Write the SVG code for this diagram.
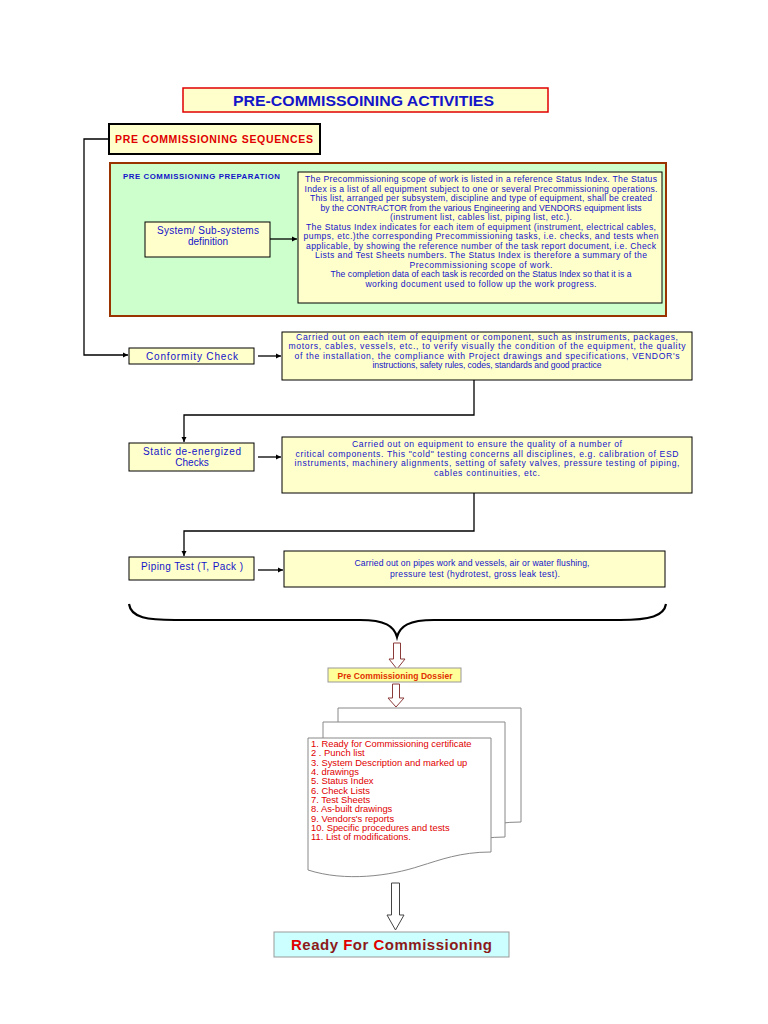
<svg xmlns="http://www.w3.org/2000/svg" width="768" height="1024" viewBox="0 0 768 1024">
<style>
text{font-family:"Liberation Sans",Arial,sans-serif}
.box{fill:#FFFFCC;stroke:#000;stroke-width:1}
.bt{fill:#1414C8;font-size:8.6px;text-anchor:middle}
.lbl{fill:#1414C8;font-size:10px;text-anchor:middle}
.con{fill:none;stroke:#000;stroke-width:1.3}
.hol{fill:#fff;stroke:#8B3A3A;stroke-width:1}
.page{fill:#fff;stroke:#888;stroke-width:1}
.li{fill:#E00000;font-size:9.4px}
</style>
<defs>
<marker id="ah" markerWidth="6" markerHeight="6" refX="5" refY="3" orient="auto" markerUnits="userSpaceOnUse"><path d="M0,0.5 L5,3 L0,5.5 Z" fill="#000"/></marker>
</defs>
<rect width="768" height="1024" fill="#fff"/>

<g id="title">
<rect x="183" y="88" width="365" height="24" fill="#FFFFCC" stroke="#E00000" stroke-width="1.5"/>
<text x="363.5" y="106" fill="#1414C8" font-size="15" font-weight="bold" text-anchor="middle" textLength="261" lengthAdjust="spacingAndGlyphs">PRE-COMMISSOINING ACTIVITIES</text>
</g>

<g id="sequences">
<rect x="109" y="124" width="211" height="30" fill="#FFFFCC" stroke="#000" stroke-width="2"/>
<text x="115" y="143" fill="#E00000" font-size="10.5" font-weight="bold" textLength="198" lengthAdjust="spacing">PRE COMMISSIONING SEQUENCES</text>
</g>

<g id="preparation">
<rect x="110" y="163" width="556" height="153" fill="#CCFFCC" stroke="#993300" stroke-width="2"/>
<text x="123" y="179" fill="#1414C8" font-size="7.8" font-weight="bold" textLength="157" lengthAdjust="spacing">PRE COMMISSIONING PREPARATION</text>
</g>

<g id="system">
<rect class="box" x="145" y="222" width="125" height="35"/>
<text class="lbl" x="208" y="234" textLength="102" lengthAdjust="spacing">System/ Sub-systems</text>
<text class="lbl" x="208" y="245">definition</text>
</g>

<g id="status-index">
<rect class="box" x="298" y="172" width="364" height="131"/>
<text class="bt" x="481" y="182" textLength="352" lengthAdjust="spacing">The Precommissioning scope of work is listed in a reference Status Index. The Status</text>
<text class="bt" x="481" y="191.5" textLength="353" lengthAdjust="spacing">Index is a list of all equipment subject to one or several Precommissioning operations.</text>
<text class="bt" x="481" y="201" textLength="342" lengthAdjust="spacing">This list, arranged per subsystem, discipline and type of equipment, shall be created</text>
<text class="bt" x="481" y="210.5" textLength="321" lengthAdjust="spacing">by the CONTRACTOR from the various Engineering and VENDORS equipment lists</text>
<text class="bt" x="481" y="220" textLength="182" lengthAdjust="spacing">(instrument list, cables list, piping list, etc.).</text>
<text class="bt" x="481" y="229.5" textLength="350" lengthAdjust="spacing">The Status Index indicates for each item of equipment (instrument, electrical cables,</text>
<text class="bt" x="481" y="239" textLength="355" lengthAdjust="spacing">pumps, etc.)the corresponding Precommissioning tasks, i.e. checks, and tests when</text>
<text class="bt" x="481" y="248.5" textLength="350" lengthAdjust="spacing">applicable, by showing the reference number of the task report document, i.e. Check</text>
<text class="bt" x="481" y="258" textLength="332" lengthAdjust="spacing">Lists and Test Sheets numbers. The Status Index is therefore a summary of the</text>
<text class="bt" x="481" y="267.5" textLength="143" lengthAdjust="spacing">Precommissioning scope of work.</text>
<text class="bt" x="481" y="277" textLength="301" lengthAdjust="spacing">The completion data of each task is recorded on the Status Index so that it is a</text>
<text class="bt" x="481" y="286.5" textLength="231" lengthAdjust="spacing">working document used to follow up the work progress.</text>
</g>

<g id="conformity">
<rect class="box" x="129" y="348" width="125" height="16"/>
<text class="lbl" x="192" y="359.5" textLength="92" lengthAdjust="spacing">Conformity Check</text>
</g>
<g id="conformity-desc">
<rect class="box" x="282" y="332" width="410" height="48"/>
<text class="bt" x="487" y="339.5" textLength="382" lengthAdjust="spacing">Carried out on each item of equipment or component, such as  instruments, packages,</text>
<text class="bt" x="487" y="349" textLength="397" lengthAdjust="spacing">motors, cables, vessels, etc., to verify visually the condition of the  equipment, the quality</text>
<text class="bt" x="487" y="358.5" textLength="385" lengthAdjust="spacing">of the installation, the compliance with Project drawings and specifications, VENDOR's</text>
<text class="bt" x="487" y="368" textLength="229" lengthAdjust="spacing">instructions, safety rules, codes, standards and good practice</text>
</g>

<g id="static">
<rect class="box" x="129" y="443" width="125" height="28"/>
<text class="lbl" x="192" y="454.5" textLength="98" lengthAdjust="spacing">Static de-energized</text>
<text class="lbl" x="192" y="466">Checks</text>
</g>
<g id="static-desc">
<rect class="box" x="282" y="437" width="410" height="56"/>
<text class="bt" x="487" y="447" textLength="270" lengthAdjust="spacing">Carried out on equipment to ensure the quality of a number of</text>
<text class="bt" x="487" y="456.5" textLength="383" lengthAdjust="spacing">critical components. This "cold" testing concerns all disciplines, e.g. calibration of ESD</text>
<text class="bt" x="487" y="466" textLength="385" lengthAdjust="spacing">instruments, machinery alignments, setting of safety valves, pressure testing of piping,</text>
<text class="bt" x="487" y="475.5" textLength="106" lengthAdjust="spacing">cables continuities, etc.</text>
</g>

<g id="piping">
<rect class="box" x="129" y="557" width="125" height="23"/>
<text class="lbl" x="192" y="569.5" textLength="102" lengthAdjust="spacing">Piping Test (T, Pack )</text>
</g>
<g id="piping-desc">
<rect class="box" x="284" y="551" width="381" height="36"/>
<text class="bt" x="472" y="566" textLength="235" lengthAdjust="spacing">Carried out on pipes work and vessels, air or water flushing,</text>
<text class="bt" x="475" y="577" textLength="170" lengthAdjust="spacing">pressure test (hydrotest, gross leak test).</text>
</g>

<g id="connectors">
<path class="con" d="M109,139 H84 V355 H128" marker-end="url(#ah)"/>
<path class="con" d="M270,239 H297" marker-end="url(#ah)"/>
<path class="con" d="M258,356 H281" marker-end="url(#ah)"/>
<path class="con" d="M474,380 V415 H184 V442" marker-end="url(#ah)"/>
<path class="con" d="M258,457 H281" marker-end="url(#ah)"/>
<path class="con" d="M474,493 V531 H184 V556" marker-end="url(#ah)"/>
<path class="con" d="M258,570 H283" marker-end="url(#ah)"/>
<path d="M129,604 C131,618 148,620 175,620 H360 C385,620 394,626 397,637 C400,626 409,620 434,620 H620 C650,620 664,616 666,604" fill="none" stroke="#000" stroke-width="2.2"/>
<path class="hol" d="M393.5,643 H400.5 V659 H405 L397,669 L389,659 H393.5 Z"/>
<path class="hol" d="M392.5,684 H399.5 V698 H404 L396,707 L388,698 H392.5 Z"/>
<path d="M391.5,883 H399.5 V915 H404 L395.5,930 L387,915 H391.5 Z" fill="#fff" stroke="#444" stroke-width="1"/>
</g>

<g id="dossier">
<rect x="328" y="668" width="133" height="14" fill="#FFFF99" stroke="#999" stroke-width="1"/>
<text x="395" y="678.5" fill="#E03000" font-size="8.5" font-weight="bold" text-anchor="middle" textLength="115" lengthAdjust="spacing">Pre Commissioning Dossier</text>
</g>

<g id="documents">
<path class="page" d="M338,708 H521 V822 C490,822 470,830 450,838 C420,848 385,850 338,840 Z"/>
<path class="page" d="M323,722 H505 V837 C475,837 455,845 435,853 C405,863 370,865 323,855 Z"/>
<path class="page" d="M308,738 H491 V852 C460,852 440,860 420,866 C390,876 345,882 308,870 Z"/>
<text class="li" x="311" y="746.5">1.  Ready for Commissioning certificate</text>
<text class="li" x="311" y="756">2 . Punch list</text>
<text class="li" x="311" y="765.5">3.  System Description and marked up</text>
<text class="li" x="311" y="774.5">4.  drawings</text>
<text class="li" x="311" y="784">5.  Status Index</text>
<text class="li" x="311" y="793.5">6.  Check Lists</text>
<text class="li" x="311" y="803">7.  Test Sheets</text>
<text class="li" x="311" y="812">8.  As-built drawings</text>
<text class="li" x="311" y="821.5">9.  Vendors's reports</text>
<text class="li" x="311" y="831">10. Specific procedures and tests</text>
<text class="li" x="311" y="840">11. List of modifications.</text>
</g>

<g id="ready">
<rect x="274" y="932" width="235" height="25" fill="#CCFFFF" stroke="#999" stroke-width="1"/>
<text x="391.5" y="950" font-size="15" font-weight="bold" text-anchor="middle" fill="#8B1A1A" textLength="201" lengthAdjust="spacing"><tspan fill="#E00000">R</tspan>eady <tspan fill="#E00000">F</tspan>or <tspan fill="#E00000">C</tspan>ommissioning</text>
</g>
</svg>
